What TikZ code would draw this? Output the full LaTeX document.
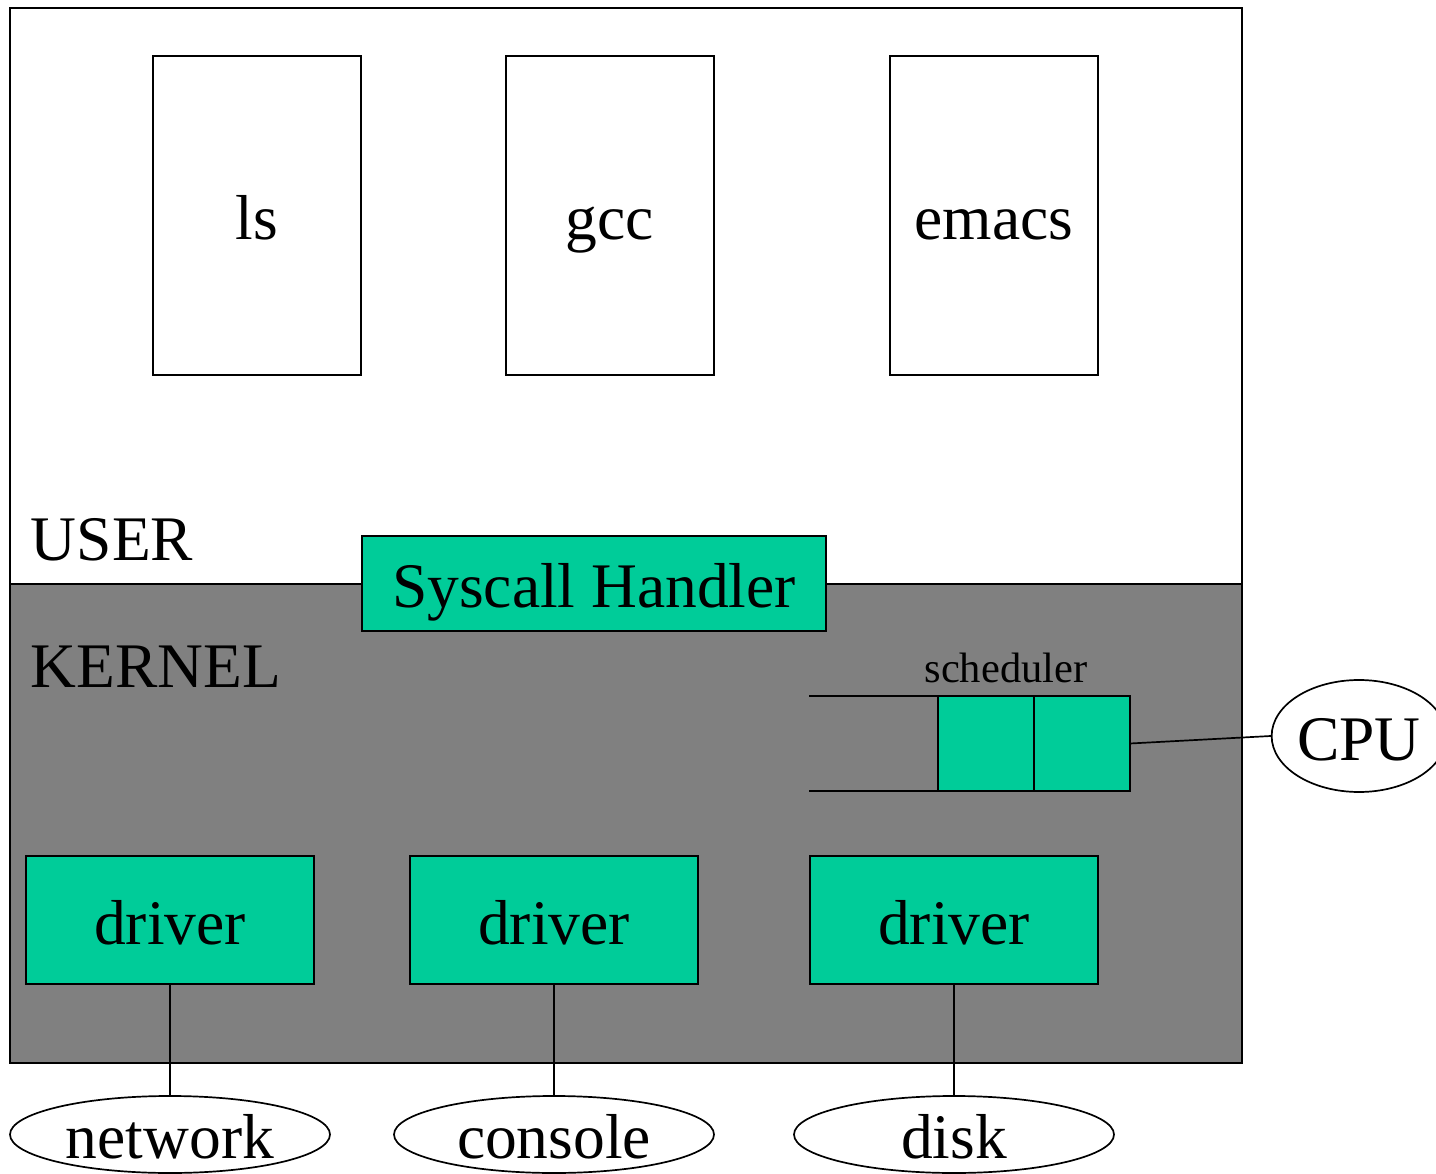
\documentclass[tikz,border=0pt]{standalone}
\usepackage{fontspec}
\setmainfont{Liberation Serif}
\usetikzlibrary{shapes.geometric}
\definecolor{teal1}{HTML}{00CC99}
\definecolor{kgray}{HTML}{808080}
\begin{document}
\begin{tikzpicture}[x=1pt,y=-1pt,line width=1.7pt,
  big/.style={font=\fontsize{63.5}{64}\selectfont},
  lbl/.style={big,text height=48pt,text depth=0pt,inner sep=0pt},
  prog/.style={lbl,draw,fill=white,minimum width=208,minimum height=319},
  tbox/.style={lbl,draw,fill=teal1},
  drv/.style={tbox,minimum width=288,minimum height=128},
  dev/.style={lbl,draw,fill=white,ellipse,minimum width=320,minimum height=77},
  qcell/.style={draw,fill=teal1,minimum width=96,minimum height=95,inner sep=0pt,outer sep=0pt}]
\useasboundingbox (0,0) rectangle (1436,1174);
\begin{scope}
\clip (0,0) rectangle (1436,1174);
% regions
\draw[fill=white] (10,8) rectangle (1242,584);
\draw[fill=kgray] (10,584) rectangle (1242,1063);
\node[big,anchor=base west,inner sep=0pt] (user) at (30,560) {USER};
\node[big,anchor=base west,inner sep=0pt] (kernel) at (30,687) {KERNEL};
% programs
\node[prog] (ls) at (257,215.5) {ls};
\node[prog] (gcc) at (610,215.5) {gcc};
\node[prog] (emacs) at (994,215.5) {emacs};
% syscall handler
\node[tbox,minimum width=464,minimum height=95] (sys) at (594,583.5) {Syscall Handler};
% scheduler
\node[font=\fontsize{42.5}{43}\selectfont,anchor=base,inner sep=0pt] (sched) at (1006,682) {scheduler};
\node[qcell] (q1) at (986,743.5) {};
\node[qcell] (q2) at (1082,743.5) {};
\coordinate (qt) at (809,696);
\coordinate (qb) at (809,791);
\draw (qt) -- (q1.north west);
\draw (qb) -- (q1.south west);
\node[lbl,draw,fill=white,ellipse,minimum width=168,minimum height=112] (cpu) at (1359,736) {CPU};
\draw (q2.east) -- (cpu.west);
% drivers
\node[drv] (d1) at (170,920) {driver};
\node[drv] (d2) at (554,920) {driver};
\node[drv] (d3) at (954,920) {driver};
% devices
\node[dev] (net) at (170,1134.5) {network};
\node[dev] (con) at (554,1134.5) {console};
\node[dev] (disk) at (954,1134.5) {disk};
\draw (d1.south) -- (net.north);
\draw (d2.south) -- (con.north);
\draw (d3.south) -- (disk.north);
\end{scope}
\end{tikzpicture}
\end{document}
